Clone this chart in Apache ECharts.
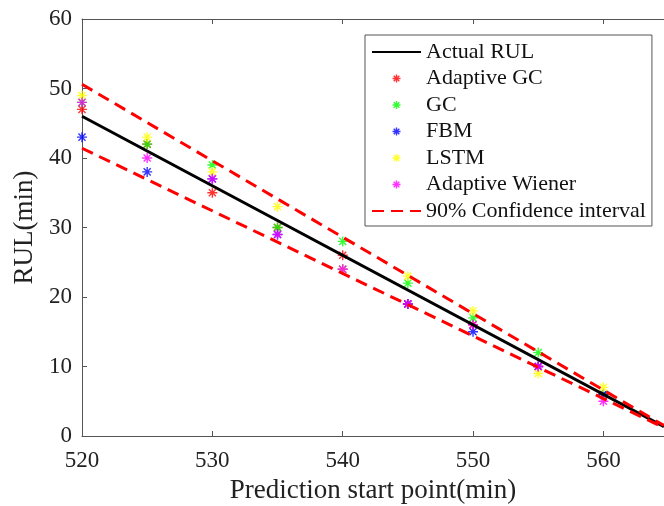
<!DOCTYPE html>
<html>
<head>
<meta charset="utf-8">
<script src="https://cdn.jsdelivr.net/npm/echarts@6/dist/echarts.min.js"></script>
<style>html,body{margin:0;padding:0;background:#fff;}#c{width:664px;height:506px;}</style>
</head>
<body>
<div id="c"></div>
<script>
const startPoints = [520, 525, 530, 535, 540, 545, 550, 555, 560];
const adaptiveGC = [47, 42, 35, 30, 26, 19, 16, 10, 6];
const gc = [48, 42, 39, 30, 28, 22, 17, 12, 6];
const fbm = [43, 38, 37, 29, 24, 19, 15, 10, 6];
const lstm = [49, 43, 38, 33, 24, 23, 18, 9, 7];
const adaptiveWiener = [48, 40, 37, 29, 24, 19, 16, 10, 5];
const actualX = [520, 564.65];
const actualRUL = [46, 1.35];
const upperCI = [50.6, 1.5];
const lowerCI = [41.4, 1.2];
const xTicks = [520, 530, 540, 550, 560];
const yTicks = [0, 10, 20, 30, 40, 50, 60];

const FONT = "'Liberation Serif', 'Times New Roman', serif";
const STAR = 'path://M0,-10L0,10M-10,0L10,0M-7.07,-7.07L7.07,7.07M-7.07,7.07L7.07,-7.07';
const pair = (xs, ys) => xs.map((x, i) => [x, ys[i]]);

function scatter(name, vals, color) {
  return {
    name: name, type: 'scatter', data: pair(startPoints, vals),
    symbol: STAR, symbolSize: 10,
    itemStyle: { color: color, borderColor: color, borderWidth: 1.4 },
    emphasis: { disabled: true }
  };
}
function legItem(name, color) {
  return { name: name, itemStyle: { color: color, borderColor: color, borderWidth: 1.4 } };
}

const chart = echarts.init(document.getElementById('c'));
chart.setOption({
  animation: false,
  backgroundColor: '#fff',
  textStyle: { fontFamily: FONT },
  grid: { left: 82, top: 19, right: 0, bottom: 70, outerBoundsMode: 'none', containLabel: false },
  legend: {
    orient: 'vertical', left: 365, top: 35,
    backgroundColor: '#fff', borderColor: '#555', borderWidth: 1, borderRadius: 0,
    padding: [6, 6, 4, 6],
    itemWidth: 49, itemHeight: 8, itemGap: 4.5,
    textStyle: { fontFamily: FONT, fontSize: 22, color: '#111', lineHeight: 22 },
    data: [
      { name: 'Actual RUL', itemStyle: { opacity: 0 } },
      legItem('Adaptive GC', '#ff0000'),
      legItem('GC', '#00ff00'),
      legItem('FBM', '#0000ff'),
      legItem('LSTM', '#ffff00'),
      legItem('Adaptive Wiener', '#ff00ff'),
      { name: '90% Confidence interval', itemStyle: { opacity: 0 } }
    ]
  },
  xAxis: [{
    type: 'value', min: 520, max: 564.65, interval: 10,
    name: 'Prediction start point(min)', nameLocation: 'middle', nameGap: 41,
    nameTextStyle: { fontFamily: FONT, fontSize: 27, color: '#222' },
    axisLine: { show: true, lineStyle: { color: '#555', width: 1 } },
    axisTick: { show: true, inside: true, length: 5, lineStyle: { color: '#555' } },
    axisLabel: { fontFamily: FONT, fontSize: 23, color: '#222', margin: 13,
      formatter: v => xTicks.indexOf(v) >= 0 ? String(v) : '' },
    splitLine: { show: false }
  }, {
    type: 'value', min: 520, max: 564.65, interval: 10, position: 'top',
    axisLine: { show: true, lineStyle: { color: '#555', width: 1 } },
    axisTick: { show: true, inside: true, length: 5, lineStyle: { color: '#555' } },
    axisLabel: { show: false }, splitLine: { show: false }
  }],
  yAxis: {
    type: 'value', min: 0, max: 60, interval: 10,
    name: 'RUL(min)', nameLocation: 'middle', nameGap: 40,
    nameTextStyle: { fontFamily: FONT, fontSize: 27, color: '#222' },
    axisLine: { show: true, lineStyle: { color: '#555', width: 1 } },
    axisTick: { show: true, inside: true, length: 5, lineStyle: { color: '#555' } },
    axisLabel: { fontFamily: FONT, fontSize: 23, color: '#222', margin: 10,
      formatter: v => yTicks.indexOf(v) >= 0 ? String(v) : '' },
    splitLine: { show: false }
  },
  series: [
    { name: 'Actual RUL', type: 'line', data: pair(actualX, actualRUL), symbol: 'none',
      lineStyle: { color: '#000', width: 3 }, itemStyle: { color: '#000' }, z: 3 },
    scatter('Adaptive GC', adaptiveGC, '#ff0000'),
    scatter('GC', gc, '#00ff00'),
    scatter('FBM', fbm, '#0000ff'),
    scatter('LSTM', lstm, '#ffff00'),
    scatter('Adaptive Wiener', adaptiveWiener, '#ff00ff'),
    { name: '90% Confidence interval', type: 'line', data: pair(actualX, upperCI), symbol: 'none',
      lineStyle: { color: '#ff0000', width: 3, type: [12, 7] }, itemStyle: { color: '#ff0000' }, z: 3 },
    { name: '90% Confidence interval', type: 'line', data: pair(actualX, lowerCI), symbol: 'none',
      lineStyle: { color: '#ff0000', width: 3, type: [12, 7] }, itemStyle: { color: '#ff0000' }, z: 3 }
  ]
});
</script>
</body>
</html>
